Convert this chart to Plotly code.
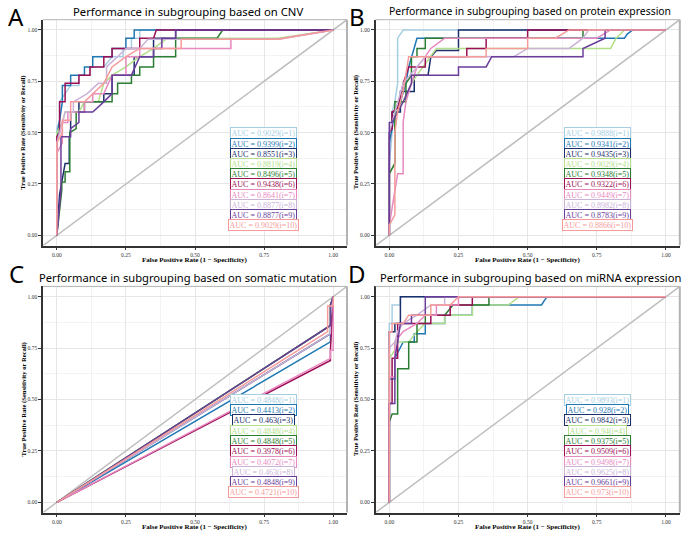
import plotly.graph_objects as go

# ---------------- data ----------------
series_names = ["i=1", "i=2", "i=3", "i=4", "i=5", "i=6", "i=7", "i=8", "i=9", "i=10"]
colors = ["#a6cee3", "#1f78b4", "#1a2f6b", "#b2df8a", "#2a7d32",
          "#9c0f57", "#e889c0", "#cbb3d8", "#6a3d9a", "#f79a9a"]

panel_titles = ["Performance in subgrouping based on CNV",
                "Performance in subgrouping based on protein expression",
                "Performance in subgrouping based on somatic mutation",
                "Performance in subgrouping based on miRNA expression"]
panel_letters = ["A", "B", "C", "D"]

auc_cnv = ["0.9029", "0.9399", "0.8551", "0.8819", "0.8496", "0.9438", "0.8641", "0.8877", "0.8877", "0.9029"]
auc_protein = ["0.9888", "0.9341", "0.9435", "0.9029", "0.9348", "0.9322", "0.9449", "0.8982", "0.8783", "0.8866"]
auc_mutation = ["0.4848", "0.4413", "0.463", "0.4848", "0.4848", "0.3978", "0.4072", "0.463", "0.4848", "0.4721"]
auc_mirna = ["0.9893", "0.928", "0.9842", "0.94", "0.9375", "0.9509", "0.9498", "0.9625", "0.9661", "0.973"]

cnv_fpr = [
    [0, 0, 0.01, 0.01, 0.03, 0.05, 0.08, 0.08, 0.12, 0.12, 0.17, 0.2, 0.24, 0.24, 0.27, 0.27, 0.3, 0.3, 1],
    [0, 0, 0.01, 0.02, 0.02, 0.05, 0.05, 0.1, 0.1, 0.13, 0.13, 0.2, 0.2, 0.25, 0.25, 0.28, 0.28, 1],
    [0, 0.01, 0.03, 0.045, 0.045, 0.05, 0.05, 0.08, 0.08, 0.17, 0.17, 0.2, 0.2, 0.28, 0.28, 0.35, 0.35, 0.43, 0.43, 1],
    [0, 0, 0.02, 0.03, 0.08, 0.1, 0.15, 0.17, 0.2, 0.25, 0.3, 0.35, 0.4, 0.8, 1],
    [0, 0.018, 0.018, 0.03, 0.03, 0.047, 0.047, 0.07, 0.07, 0.1, 0.1, 0.2, 0.2, 0.22, 0.22, 0.27, 0.27, 0.3, 0.3, 0.35, 0.35, 0.43, 0.43, 0.58, 0.6, 1],
    [0, 0, 0.01, 0.01, 0.03, 0.03, 0.08, 0.08, 0.12, 0.12, 0.17, 0.17, 0.2, 0.2, 0.3, 0.3, 0.35, 0.36, 1],
    [0, 0, 0.02, 0.02, 0.04, 0.04, 0.1, 0.1, 0.13, 0.13, 0.17, 0.2, 0.25, 0.25, 0.3, 0.3, 0.63, 0.63, 0.8, 1],
    [0, 0, 0.01, 0.03, 0.06, 0.06, 0.11, 0.15, 0.18, 0.18, 0.22, 0.25, 0.3, 0.33, 0.5, 0.8, 1],
    [0, 0.015, 0.015, 0.05, 0.05, 0.08, 0.08, 0.13, 0.17, 0.2, 0.2, 0.27, 0.3, 0.35, 0.35, 0.38, 0.38, 0.43, 0.43, 1],
    [0, 0, 0.02, 0.02, 0.05, 0.05, 0.1, 0.13, 0.17, 0.2, 0.25, 0.3, 0.45, 0.45, 0.8, 1],
]
cnv_tpr = [
    [0, 0.52, 0.56, 0.65, 0.69, 0.73, 0.73, 0.78, 0.78, 0.82, 0.82, 0.87, 0.87, 0.91, 0.91, 0.96, 0.96, 1, 1],
    [0, 0.48, 0.56, 0.65, 0.73, 0.73, 0.78, 0.78, 0.82, 0.82, 0.87, 0.87, 0.91, 0.91, 0.96, 0.96, 1, 1],
    [0, 0.2, 0.35, 0.35, 0.47, 0.52, 0.6, 0.6, 0.65, 0.65, 0.69, 0.69, 0.78, 0.78, 0.87, 0.87, 0.96, 0.96, 1, 1],
    [0, 0.5, 0.55, 0.6, 0.6, 0.65, 0.65, 0.74, 0.78, 0.82, 0.87, 0.91, 0.96, 0.96, 1],
    [0, 0.22, 0.26, 0.26, 0.31, 0.31, 0.5, 0.52, 0.6, 0.6, 0.65, 0.65, 0.69, 0.69, 0.74, 0.74, 0.78, 0.78, 0.82, 0.82, 0.87, 0.87, 0.96, 0.96, 1, 1],
    [0, 0.48, 0.5, 0.65, 0.65, 0.74, 0.74, 0.78, 0.78, 0.82, 0.82, 0.87, 0.87, 0.91, 0.91, 0.96, 0.96, 1, 1],
    [0, 0.4, 0.45, 0.55, 0.55, 0.6, 0.6, 0.65, 0.65, 0.69, 0.69, 0.78, 0.78, 0.87, 0.87, 0.91, 0.91, 0.955, 0.955, 1],
    [0, 0.45, 0.5, 0.6, 0.6, 0.65, 0.69, 0.74, 0.74, 0.82, 0.87, 0.91, 0.91, 0.955, 0.955, 0.955, 1],
    [0, 0.22, 0.48, 0.48, 0.52, 0.55, 0.6, 0.6, 0.65, 0.69, 0.78, 0.78, 0.87, 0.87, 0.91, 0.91, 0.96, 0.96, 1, 1],
    [0, 0.45, 0.5, 0.56, 0.56, 0.65, 0.65, 0.69, 0.74, 0.82, 0.87, 0.91, 0.91, 0.955, 0.955, 1],
]

protein_fpr = [
    [0, 0, 0.01, 0.01, 0.02, 0.03, 0.03, 0.05, 1],
    [0, 0, 0.01, 0.02, 0.04, 0.06, 0.07, 0.08, 0.09, 0.1, 0.85, 0.86, 0.88, 1],
    [0, 0, 0.01, 0.01, 0.04, 0.04, 0.09, 0.09, 0.14, 0.15, 0.17, 0.25, 0.25, 1],
    [0, 0, 0.02, 0.02, 0.05, 0.08, 0.1, 0.15, 0.17, 0.76, 0.8, 0.82, 0.85, 1],
    [0, 0, 0.02, 0.02, 0.06, 0.06, 0.08, 0.08, 0.1, 0.1, 0.13, 0.13, 0.7, 0.7, 1],
    [0, 0, 0.01, 0.01, 0.03, 0.05, 0.07, 0.13, 0.13, 0.28, 0.28, 0.35, 0.35, 0.5, 0.5, 1],
    [0, 0, 0.03, 0.05, 0.05, 0.06, 0.08, 0.1, 0.13, 0.15, 0.2, 0.75, 0.8, 1],
    [0, 0, 0.02, 0.05, 0.1, 0.13, 0.45, 0.5, 0.65, 0.7, 0.72, 1],
    [0, 0, 0.01, 0.03, 0.05, 0.08, 0.08, 0.25, 0.25, 0.35, 0.37, 0.7, 0.7, 0.78, 0.78, 1],
    [0, 0, 0.02, 0.02, 0.03, 0.05, 0.07, 0.35, 0.35, 0.5, 0.5, 0.6, 0.65, 1],
]
protein_tpr = [
    [0, 0.35, 0.5, 0.6, 0.65, 0.74, 0.96, 1, 1],
    [0, 0.45, 0.52, 0.6, 0.65, 0.74, 0.82, 0.87, 0.91, 0.96, 0.96, 0.98, 1, 1],
    [0, 0.5, 0.52, 0.6, 0.6, 0.7, 0.7, 0.78, 0.78, 0.87, 0.9, 0.9, 1, 1],
    [0, 0.3, 0.35, 0.6, 0.65, 0.74, 0.78, 0.87, 0.91, 0.91, 0.91, 0.96, 1, 1],
    [0, 0.3, 0.35, 0.65, 0.65, 0.74, 0.78, 0.87, 0.87, 0.91, 0.91, 0.96, 0.96, 1, 1],
    [0, 0.5, 0.52, 0.6, 0.62, 0.74, 0.82, 0.82, 0.87, 0.87, 0.91, 0.91, 0.96, 0.96, 1, 1],
    [0, 0.05, 0.3, 0.3, 0.55, 0.65, 0.74, 0.82, 0.87, 0.91, 0.96, 0.96, 1, 1],
    [0, 0.5, 0.6, 0.74, 0.82, 0.87, 0.87, 0.91, 0.91, 0.96, 1, 1],
    [0, 0.55, 0.55, 0.6, 0.65, 0.74, 0.78, 0.78, 0.82, 0.82, 0.87, 0.87, 0.91, 0.96, 1, 1],
    [0, 0.05, 0.1, 0.5, 0.6, 0.7, 0.87, 0.87, 0.91, 0.91, 0.96, 0.96, 1, 1],
]

mutation_fpr = [
    [0, 0.99, 0.99, 1],
    [0, 0.99, 0.99, 1],
    [0, 0.99, 1, 1],
    [0, 0.99, 0.99, 1],
    [0, 0.99, 0.99, 1],
    [0, 0.99, 0.99, 1],
    [0, 0.99, 0.99, 1, 1],
    [0, 0.99, 0.99, 1],
    [0, 0.99, 0.99, 1],
    [0, 0.98, 0.98, 1, 1],
]
mutation_tpr = [
    [0, 0.86, 0.96, 1],
    [0, 0.78, 0.86, 1],
    [0, 0.82, 0.96, 1],
    [0, 0.86, 0.96, 1],
    [0, 0.86, 0.96, 1],
    [0, 0.69, 0.74, 1],
    [0, 0.7, 0.74, 0.74, 1],
    [0, 0.82, 0.91, 1],
    [0, 0.86, 0.96, 1],
    [0, 0.83, 0.955, 0.955, 1],
]

mirna_fpr = [
    [0, 0, 0.01, 0.01, 0.04, 0.04, 1],
    [0, 0, 0.02, 0.02, 0.05, 0.09, 0.09, 0.13, 0.13, 0.2, 0.2, 0.3, 0.3, 0.55, 0.57, 1],
    [0, 0, 0.02, 0.02, 0.04, 0.04, 1],
    [0, 0, 0.02, 0.02, 0.07, 0.1, 0.13, 0.2, 0.2, 0.3, 0.3, 0.43, 0.47, 1],
    [0, 0, 0.01, 0.03, 0.03, 0.07, 0.07, 0.1, 0.1, 0.13, 0.13, 0.2, 0.23, 0.36, 0.36, 1],
    [0, 0, 0.01, 0.01, 0.03, 0.03, 0.15, 0.15, 0.22, 0.22, 0.3, 0.3, 1],
    [0, 0, 0.02, 0.02, 0.05, 0.1, 0.13, 0.17, 0.17, 0.25, 0.25, 1],
    [0, 0, 0.02, 0.03, 0.05, 0.1, 0.15, 0.2, 0.2, 1],
    [0, 0, 0.02, 0.02, 0.03, 0.04, 0.08, 0.08, 0.13, 0.13, 1],
    [0, 0, 0.01, 0.01, 0.05, 0.07, 0.15, 0.15, 0.22, 0.25, 1],
]
mirna_tpr = [
    [0, 0.87, 0.87, 0.96, 0.96, 1, 1],
    [0, 0.6, 0.6, 0.7, 0.78, 0.78, 0.82, 0.82, 0.87, 0.87, 0.91, 0.91, 0.96, 0.96, 1, 1],
    [0, 0.83, 0.83, 0.87, 0.87, 1, 1],
    [0, 0.7, 0.74, 0.78, 0.78, 0.83, 0.87, 0.87, 0.91, 0.91, 0.96, 0.96, 1, 1],
    [0, 0.39, 0.43, 0.43, 0.65, 0.65, 0.78, 0.78, 0.87, 0.87, 0.91, 0.91, 0.96, 0.96, 1, 1],
    [0, 0.48, 0.48, 0.7, 0.7, 0.87, 0.87, 0.91, 0.91, 0.96, 0.96, 1, 1],
    [0, 0.61, 0.61, 0.78, 0.83, 0.87, 0.91, 0.91, 0.96, 0.96, 1, 1],
    [0, 0.75, 0.78, 0.83, 0.87, 0.91, 0.96, 0.96, 1, 1],
    [0, 0.48, 0.48, 0.7, 0.78, 0.87, 0.87, 0.91, 0.91, 1, 1],
    [0, 0.83, 0.83, 0.87, 0.87, 0.91, 0.91, 0.96, 0.96, 1, 1],
]

tick_vals = [0, 0.25, 0.5, 0.75, 1]
tick_text = ["0.00", "0.25", "0.50", "0.75", "1.00"]
x_title = "False Positive Rate (1 − Specificity)"
y_title = "True Positive Rate (Sensitivity or Recall)"

# ---------------- layout geometry (pixels) ----------------
W, H = 700, 550
# (x_left, x_right, y_top, y_bottom) of each panel in pixels
panel_px = [(43, 347, 19.7, 245.6), (375.5, 679.8, 19.7, 245.6),
            (43, 347, 286.4, 512.6), (375.5, 679.8, 286.4, 512.6)]
legend_px = [(263, 133.3, 10.2), (597, 133.3, 10.2), (263, 399.7, 10.3), (597, 399.7, 10.3)]
title_px = [(188, 11), (530, 11), (188, 277), (530, 277)]
title_size = [11.3, 10.4, 11.2, 11.2]
letter_px = [(16, 16.5), (357, 16.5), (16, 273), (357, 273)]

panel_fpr = [cnv_fpr, protein_fpr, mutation_fpr, mirna_fpr]
panel_tpr = [cnv_tpr, protein_tpr, mutation_tpr, mirna_tpr]
panel_auc = [auc_cnv, auc_protein, auc_mutation, auc_mirna]

SERIF = "Liberation Serif, Times New Roman, serif"
SANS = "Noto Sans, Open Sans, sans-serif"

fig = go.Figure()
layout = dict(width=W, height=H, margin=dict(l=0, r=0, t=0, b=0),
              paper_bgcolor="white", plot_bgcolor="white", showlegend=False,
              annotations=[], shapes=[])


def px2x(px):
    return px / W


def px2y(py):
    return 1 - py / H


for p in range(4):
    xl, xr, yt, yb = panel_px[p]
    xa = "xaxis" if p == 0 else f"xaxis{p + 1}"
    ya = "yaxis" if p == 0 else f"yaxis{p + 1}"
    xref = "x" if p == 0 else f"x{p + 1}"
    yref = "y" if p == 0 else f"y{p + 1}"
    common = dict(range=[-0.05, 1.05], tickvals=tick_vals, ticktext=tick_text,
                  showgrid=True, gridcolor="#e6e6e6", gridwidth=0.8, zeroline=False,
                  showline=True, linecolor="#333333", linewidth=1.5,
                  ticks="outside", ticklen=3, tickwidth=0.8, tickcolor="#333333",
                  tickfont=dict(family=SERIF, size=5.5, color="#333333"),
                  minor=dict(dtick=0.125, showgrid=True, gridcolor="#f3f3f3", gridwidth=0.5),
                  fixedrange=True)
    layout[xa] = dict(common, domain=[px2x(xl), px2x(xr)], anchor=yref)
    layout[ya] = dict(common, domain=[px2y(yb), px2y(yt)], anchor=xref)

    # grey border top and right
    layout["shapes"].append(dict(type="line", xref=f"{xref} domain", yref=f"{yref} domain",
                                 x0=0, x1=1, y0=1, y1=1, line=dict(color="#b3b3b3", width=1)))
    layout["shapes"].append(dict(type="line", xref=f"{xref} domain", yref=f"{yref} domain",
                                 x0=1, x1=1, y0=0, y1=1, line=dict(color="#b3b3b3", width=2)))

    # reference diagonal
    fig.add_trace(go.Scatter(x=[-0.05, 1.05], y=[-0.05, 1.05], mode="lines",
                             line=dict(color="#bebebe", width=1.5),
                             xaxis=xref, yaxis=yref, hoverinfo="skip"))
    for i in range(10):
        fig.add_trace(go.Scatter(x=panel_fpr[p][i], y=panel_tpr[p][i], mode="lines",
                                 line=dict(color=colors[i], width=1.5),
                                 name=series_names[i], xaxis=xref, yaxis=yref))

    # AUC label boxes
    lx, ly0, dy = legend_px[p]
    for i in range(10):
        layout["annotations"].append(dict(
            x=px2x(lx), y=px2y(ly0 + i * dy), xref="paper", yref="paper",
            text=f"AUC = {panel_auc[p][i]}({series_names[i]})", showarrow=False,
            font=dict(family=SERIF, size=8, color=colors[i]),
            bordercolor=colors[i], borderwidth=1, borderpad=0.5, bgcolor="white",
            xanchor="center", yanchor="middle"))

    # axis titles
    layout["annotations"].append(dict(
        x=px2x((xl + xr) / 2), y=px2y(yb + 14.5), xref="paper", yref="paper",
        text=f"<b>{x_title}</b>", showarrow=False,
        font=dict(family=SERIF, size=7, color="black"), xanchor="center", yanchor="middle"))
    layout["annotations"].append(dict(
        x=px2x(xl - 20), y=px2y((yt + yb) / 2), xref="paper", yref="paper",
        text=f"<b>{y_title}</b>", showarrow=False, textangle=-90,
        font=dict(family=SERIF, size=6.6, color="black"), xanchor="center", yanchor="middle"))

    # panel title
    tx, ty = title_px[p]
    layout["annotations"].append(dict(
        x=px2x(tx), y=px2y(ty), xref="paper", yref="paper", text=panel_titles[p],
        showarrow=False, font=dict(family=SANS, size=title_size[p], color="black"),
        xanchor="center", yanchor="middle"))
    # panel letter
    lx2, ly2 = letter_px[p]
    layout["annotations"].append(dict(
        x=px2x(lx2), y=px2y(ly2), xref="paper", yref="paper", text=panel_letters[p],
        showarrow=False, font=dict(family=SANS, size=24, color="black"),
        xanchor="center", yanchor="middle"))

fig.update_layout(**layout)
fig.write_html("out.html", config={"displayModeBar": False},
               post_script="document.body.style.margin='0';document.body.style.overflow='hidden';")
